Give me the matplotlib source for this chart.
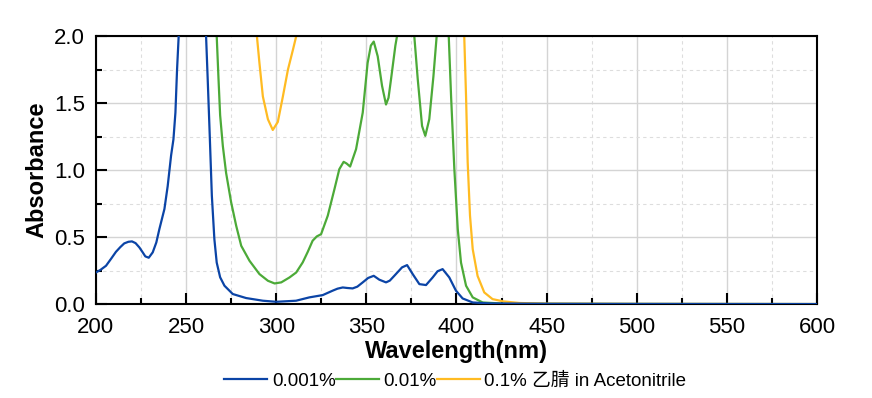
import matplotlib
matplotlib.use("Agg")
import matplotlib.pyplot as plt
from matplotlib.ticker import MultipleLocator

plt.rcParams['font.family'] = ['Liberation Sans', 'Noto Sans CJK SC', 'DejaVu Sans']

# ---- data ----
wl_blue = [200, 202.5, 205.6, 208.5, 211.1, 213.5, 215.7, 218, 220, 222, 224.1, 226, 227.4, 229.3, 231.5,
           233.5, 235.2, 238, 239.8, 241.7, 243, 244.1, 245, 245.9, 246.6,
           260.6, 261.1, 262, 263, 264.3, 265.7, 267, 268.9, 271.3, 275.9, 283.3, 292.6, 300, 311,
           318.4, 325.8, 331.3, 334, 336.9, 339.5, 342.4, 345, 348, 351, 354.1, 357.2, 360.9, 363,
           365.5, 369.8, 372.6, 375.7, 379.4, 383.1, 386.8, 389.5, 392.3, 396, 399.7, 403.4, 409,
           418.2, 450, 500, 600]
abs_blue = [0.236, 0.255, 0.286, 0.34, 0.39, 0.425, 0.453, 0.465, 0.468, 0.455, 0.423, 0.385, 0.356, 0.346,
            0.386, 0.46, 0.56, 0.71, 0.88, 1.11, 1.23, 1.43, 1.75, 2.0, 2.2,
            2.2, 2.0, 1.68, 1.31, 0.81, 0.485, 0.31, 0.20, 0.137, 0.075, 0.045, 0.025, 0.017, 0.025,
            0.05, 0.067, 0.10, 0.115, 0.124, 0.12, 0.117, 0.13, 0.162, 0.195, 0.211, 0.182, 0.162, 0.175,
            0.211, 0.274, 0.291, 0.224, 0.149, 0.142, 0.199, 0.245, 0.261, 0.199, 0.10, 0.042, 0.012,
            0.005, 0.002, 0.001, 0.0]

wl_green = [266.5, 267, 268, 268.9, 270.4, 272.2, 275, 277.8, 280.6, 285.2, 290.7, 295.4, 299.1, 302.8,
            307.4, 311.1, 314.7, 317.5, 320.2, 322.5, 324.9, 328.6, 332.3, 335, 337.4, 339, 341, 344.3,
            348, 350.7, 352.5, 354.1, 356.3, 358.7, 360.9, 362.3, 363.7, 366.1, 367, 367.5,
            376.1, 376.6, 378.5, 380.9, 382.7, 384.9, 387.2, 389, 389.5,
            395.2, 395.7, 397, 398.8, 400.7, 402.5, 405.3, 409, 414.5, 425, 450, 500, 600]
abs_green = [2.15, 2.0, 1.68, 1.41, 1.18, 0.98, 0.76, 0.585, 0.435, 0.323, 0.224, 0.174, 0.154, 0.162,
             0.199, 0.236, 0.311, 0.39, 0.473, 0.505, 0.522, 0.66, 0.858, 1.007, 1.062, 1.05, 1.027, 1.157,
             1.43, 1.80, 1.93, 1.96, 1.85, 1.63, 1.49, 1.54, 1.68, 1.93, 2.0, 2.15,
             2.15, 2.0, 1.68, 1.33, 1.256, 1.38, 1.70, 2.0, 2.15,
             2.15, 2.0, 1.55, 1.01, 0.56, 0.31, 0.137, 0.05, 0.012, 0.004, 0.002, 0.001, 0.0]

wl_yellow = [288.8, 289.3, 290.7, 292.6, 295.4, 298.1, 300.9, 303.7, 306.5, 309.3, 311.1, 311.6,
             403.8, 404.3, 405.3, 406.2, 407.5, 409, 411.7, 415.4, 420, 426, 435, 450, 500, 600]
abs_yellow = [2.15, 2.0, 1.80, 1.55, 1.38, 1.30, 1.36, 1.55, 1.75, 1.90, 2.0, 2.15,
              2.15, 2.0, 1.55, 1.06, 0.66, 0.41, 0.21, 0.087, 0.037, 0.02, 0.008, 0.003, 0.001, 0.0]

labels = ["0.001%", "0.01%", "0.1% 乙腈 in Acetonitrile"]
colors = ["#0b44a6", "#4caa38", "#ffbb22"]
x_ticks = [200, 250, 300, 350, 400, 450, 500, 550, 600]
y_ticks = [0.0, 0.5, 1.0, 1.5, 2.0]

fig = plt.figure(figsize=(8.72, 3.98), dpi=100)
ax = fig.add_axes([0.110, 0.236, 0.827, 0.673])

for wl, a, c, lab in zip([wl_blue, wl_green, wl_yellow], [abs_blue, abs_green, abs_yellow], colors, labels):
    ax.plot(wl, a, color=c, lw=1.6, label=lab, zorder=3 if c == colors[0] else 2,
            solid_joinstyle='round')

ax.set_xlim(200, 600)
ax.set_ylim(0, 2.0)
ax.set_xticks(x_ticks)
ax.set_yticks(y_ticks)
ax.set_yticklabels([f"{v:.1f}" for v in y_ticks])
ax.xaxis.set_minor_locator(MultipleLocator(25))
ax.yaxis.set_minor_locator(MultipleLocator(0.25))

ax.grid(which='major', color='#d4d4d4', lw=1.0, ls='-', zorder=0)
ax.grid(which='minor', color='#dddddd', lw=0.8, ls=(0, (3, 3)), zorder=0)
ax.set_axisbelow(True)

ax.tick_params(which='major', direction='in', length=8, width=1.5, labelsize=16,
               top=False, right=False)
ax.tick_params(axis='x', which='major', pad=9)
ax.tick_params(axis='y', which='major', pad=8)
ax.tick_params(which='minor', direction='in', length=4.5, width=1.5, top=False, right=False)
for s in ax.spines.values():
    s.set_linewidth(1.5)

ax.set_xlabel("Wavelength(nm)", fontsize=17, fontweight='bold', labelpad=2)
ax.set_ylabel("Absorbance", fontsize=17, fontweight='bold', labelpad=4)

leg = fig.legend(loc='center', bbox_to_anchor=(0.522, 0.043), ncol=3, frameon=False,
                 fontsize=13.5, handlelength=2.3, handletextpad=0.25, columnspacing=0.0)

fig.savefig("out.png", dpi=100)
